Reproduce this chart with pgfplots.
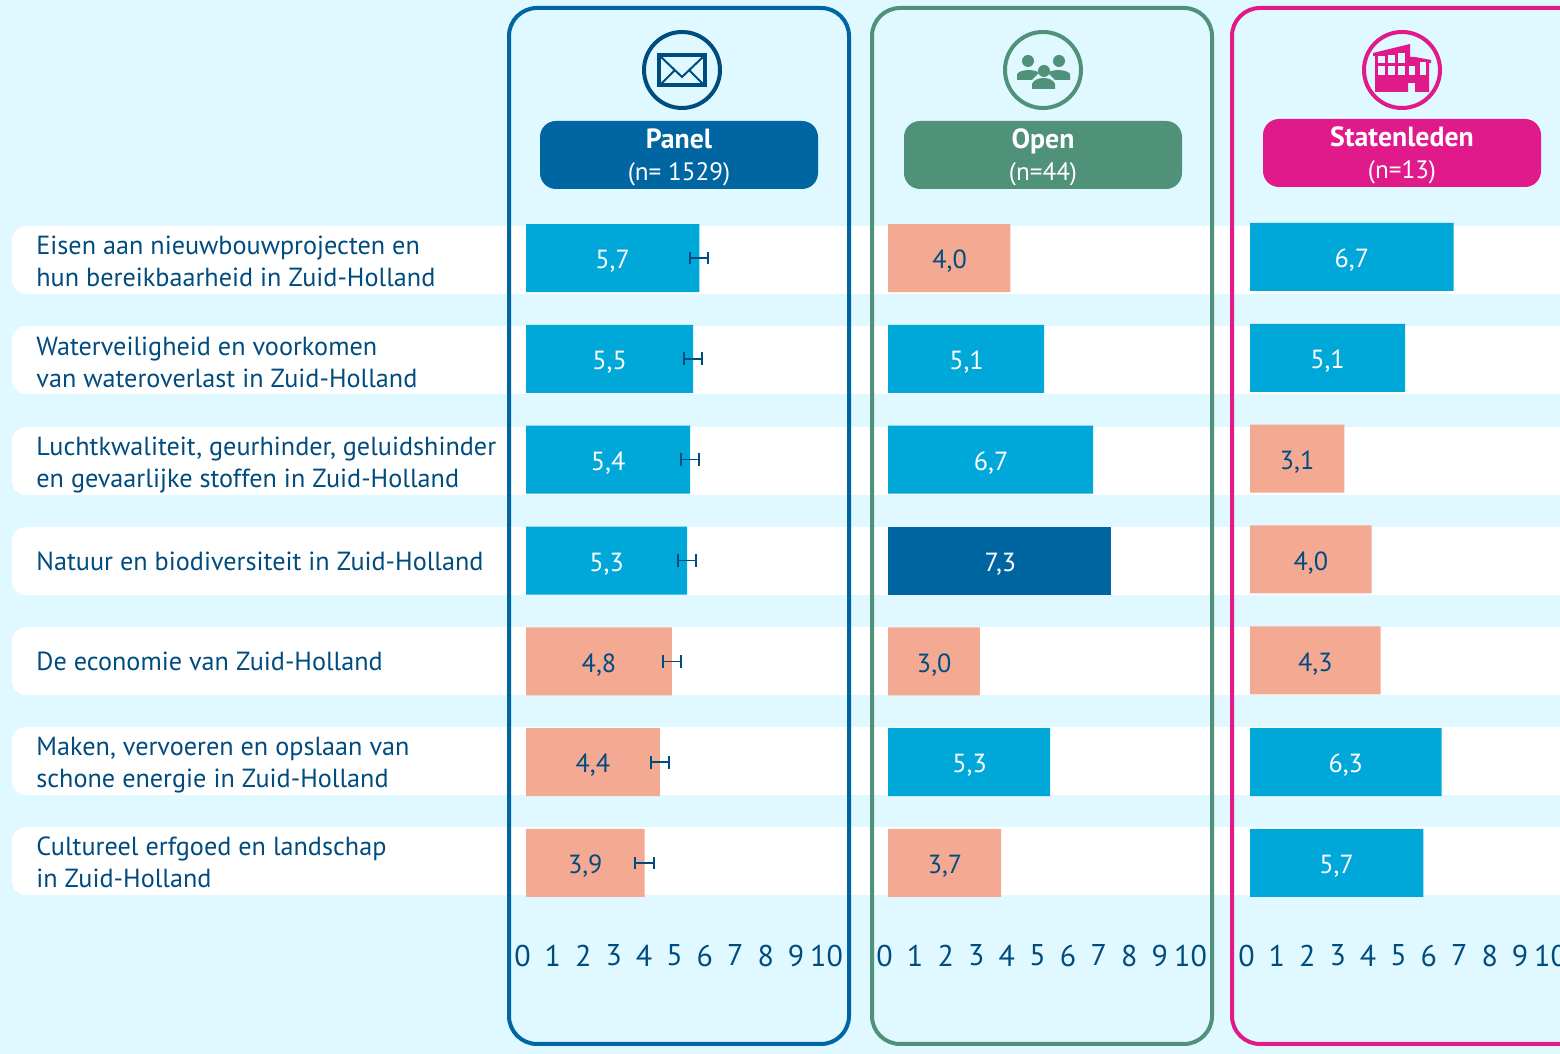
\documentclass[border=0pt]{standalone}
\usepackage{fontspec}
\setmainfont{PT Sans}
\usepackage{pgfplots}
\pgfplotsset{compat=1.18}
\definecolor{bgc}{HTML}{E0F8FF}
\definecolor{ink}{HTML}{004C7F}
\definecolor{barblue}{HTML}{00A8D9}
\definecolor{bardark}{HTML}{0066A2}
\definecolor{barsalmon}{HTML}{F4A993}
\definecolor{grn}{HTML}{50917A}
\definecolor{pnk}{HTML}{E01A8B}
\newcommand{\lab}{\fontsize{13.1}{16}\selectfont}
\newcommand{\nlab}{\fontsize{12.6}{16}\selectfont}
\newcommand{\hlab}{\fontsize{13.9}{16}\selectfont\bfseries}
\pgfplotsset{
  /pgf/number format/assume math mode=true,
  panel/.style={
    x=15.2pt, y=50.415pt, clip=false,
    xmin=0, xmax=10, ymin=-0.6, ymax=6.6,
    anchor=south west,
    axis y line=none, axis x line*=bottom,
    axis line style={draw=none}, major tick length=0pt,
    xtick={0,...,10},
    xticklabel style={font=\fontsize{15}{18}\selectfont, text=ink, xshift=-1.75pt, yshift=-7.2pt},
    xbar, bar width=34pt, bar shift=0pt,
    visualization depends on=rawx \as \rawx,
    nodes near coords,
    every node near coord/.append style={
      anchor=center, xshift={-7.6*\rawx}, yshift=-1.7pt, font=\lab,
      /pgf/number format/fixed, /pgf/number format/fixed zerofill,
      /pgf/number format/precision=1, /pgf/number format/use comma},
  },
  vblue/.style={draw=none, fill=barblue, nodes near coords style={text=white}},
  vdark/.style={draw=none, fill=bardark, nodes near coords style={text=white}},
  vsalmon/.style={draw=none, fill=barsalmon, nodes near coords style={text=ink}},
  eb/.style={error bars/.cd, x dir=both, x explicit,
    error bar style={draw=ink, line width=0.8pt},
    error mark options={rotate=90, draw=ink, line width=1pt, mark size=3.2pt}},
}
\begin{document}
\begin{tikzpicture}
\path[use as bounding box] (0,0) rectangle (780pt,527pt);
\begin{scope}[x=0.5pt, y=-0.5pt, shift={(0,527pt)}]
  \fill[white] (0,0) rectangle (1560,1054);
  \fill[bgc, rounded corners=9pt] (-40,-40) rectangle (1620,1054);
  \foreach \t in {226,326,427,527,627,727,827}
    \fill[white, rounded corners=7pt] (12,\t) rectangle (1620,\t+68);
\end{scope}

% Panel
\begin{axis}[panel, at={(263pt,65.25pt)}]
\addplot[vblue, eb] coordinates {(5.7,6) +- (0.3,0) (5.5,5) +- (0.3,0) (5.4,4) +- (0.3,0) (5.3,3) +- (0.3,0)};
\addplot[vsalmon, eb] coordinates {(4.8,2) +- (0.3,0) (4.4,1) +- (0.3,0) (3.9,0) +- (0.3,0)};
\end{axis}

% Open
\begin{axis}[panel, x=15.3pt, at={(444pt,65.25pt)}]
\addplot[vblue] coordinates {(5.1,5) (6.7,4) (5.3,1)};
\addplot[vdark] coordinates {(7.3,3)};
\addplot[vsalmon] coordinates {(4.0,6) (3.0,2) (3.7,0)};
\end{axis}

% Statenleden
\begin{axis}[panel, at={(625pt,65.25pt)}]
\addplot[vblue] coordinates {(6.7,6.01) (5.1,5.01) (6.3,1) (5.7,0)};
\addplot[vsalmon] coordinates {(3.1,4.01) (4.0,3.01) (4.3,2.01)};
\end{axis}

\begin{scope}[x=0.5pt, y=-0.5pt, shift={(0,527pt)}]
  % frames
  \draw[bardark, line width=2pt, rounded corners=14pt] (509,8) rectangle (849,1044);
  \draw[grn, line width=2pt, rounded corners=14pt] (872,8) rectangle (1212,1044);
  \draw[pnk, line width=2pt, rounded corners=14pt] (1232,8) rectangle (1640,1044);
  % pills
  \fill[bardark, rounded corners=8pt] (540,121) rectangle (818,189);
  \fill[grn, rounded corners=8pt] (904,121) rectangle (1182,189);
  \fill[pnk, rounded corners=8pt] (1263,119) rectangle (1541,187);
  \begin{scope}[every node/.style={anchor=base, text=white, inner sep=0pt}]
    \node[font=\hlab] at (679,149) {Panel};
    \node[font=\nlab] at (679,181) {(n= 1529)};
    \node[font=\hlab] at (1043,149) {Open};
    \node[font=\nlab] at (1043,181) {(n=44)};
    \node[font=\hlab] at (1402,147) {Statenleden};
    \node[font=\nlab] at (1402,179) {(n=13)};
  \end{scope}
  % envelope icon
  \draw[ink, line width=2pt] (682,70) circle (38);
  \draw[ink, line width=1.8pt] (659,55) rectangle (705,85);
  \draw[ink, line width=1pt] (660,56) -- (682,77) -- (704,56) (661,84) -- (675,70) (703,84) -- (689,70);
  % people icon
  \draw[grn, line width=2pt] (1043,70) circle (38);
  \fill[grn] (1028,61) circle (6) (1059,61) circle (6);
  \fill[grn] (1017,80) -- (1017,74) .. controls (1020,69) and (1036,69) .. (1039,73) -- (1032,80) -- cycle;
  \fill[grn] (1070,80) -- (1070,74) .. controls (1067,69) and (1051,69) .. (1048,73) -- (1055,80) -- cycle;
  \fill[grn] (1044,71) circle (6);
  \fill[grn] (1032,89) -- (1032,84) .. controls (1035,76) and (1052,76) .. (1055,84) -- (1055,89) -- cycle;
  % building icon
  \draw[pnk, line width=2pt] (1402,70) circle (38);
  \fill[pnk] (1373,53) -- (1410,44) -- (1410,57) -- (1415,57) -- (1431,60) -- (1431,63) -- (1429,63) -- (1429,92) -- (1415,92) -- (1415,83) -- (1408,83) -- (1408,92) -- (1375,92) -- (1375,56) -- (1373,56) -- cycle;
  \foreach \x/\t in {1378/56,1388/55,1398/53} {
    \fill[bgc] (\x,\t) rectangle (\x+6.5,63);
    \fill[bgc] (\x,66) rectangle (\x+6.5,75);
  }
  \fill[bgc] (1408.5,66) rectangle (1415,75);
  \fill[bgc] (1420,62) rectangle (1426,75);
  % row labels
  \begin{scope}[every node/.style={anchor=base west, text=ink, font=\lab, inner sep=0pt}]
    \node at (36,255) {Eisen aan nieuwbouwprojecten en};
    \node at (36,287) {hun bereikbaarheid in Zuid-Holland};
    \node at (36,356) {Waterveiligheid en voorkomen};
    \node at (36,388) {van wateroverlast in Zuid-Holland};
    \node at (36,456) {Luchtkwaliteit, geurhinder, geluidshinder};
    \node at (36,488) {en gevaarlijke stoffen in Zuid-Holland};
    \node at (36,571) {Natuur en biodiversiteit in Zuid-Holland};
    \node at (36,671) {De economie van Zuid-Holland};
    \node at (36,756) {Maken, vervoeren en opslaan van};
    \node at (36,788) {schone energie in Zuid-Holland};
    \node at (36,856) {Cultureel erfgoed en landschap};
    \node at (36,888) {in Zuid-Holland};
  \end{scope}
\end{scope}
\end{tikzpicture}
\end{document}
